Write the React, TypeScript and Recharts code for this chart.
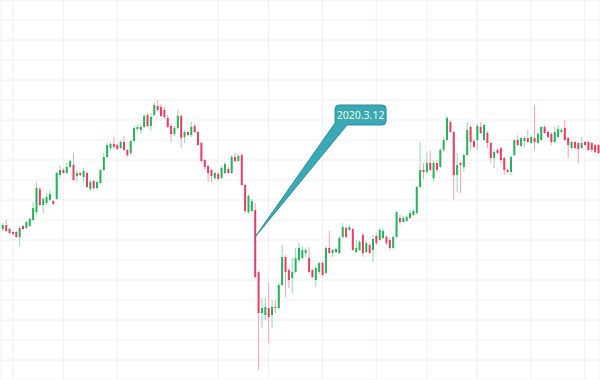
import { ComposedChart, Bar, XAxis, YAxis, CartesianGrid, ReferenceDot } from "recharts";

const open = [
  175.5, 177.5, 175.5, 174, 174, 171.5, 177, 176, 177, 180,
  184, 195.5, 187.5, 188.5, 190, 189.5, 190.5, 202.5, 205, 203.5,
  206.5, 207.5, 202, 203.5, 201.5, 203.5, 195.5, 199.5, 196, 198.5,
  205, 211.5, 216, 218, 217.5, 216, 219, 215, 213.5, 219.5,
  225.5, 225, 226.5, 232.5, 227, 232.5, 237, 236.5, 235, 231,
  227, 223, 226, 232, 221.5, 224, 222.5, 227, 224, 218.5,
  210, 207, 205, 201, 203, 201, 203.5, 205.5, 203.5, 211.5,
  209.5, 212.5, 197.5, 184, 184.5, 185, 154, 133.5, 132.5, 136,
  132.5, 136.5, 136, 147.5, 161.5, 155, 151, 154, 160, 161,
  163.5, 161, 155, 150, 154, 158.5, 153.5, 166, 163.5, 164,
  163.5, 171.5, 176, 175, 175.5, 164, 165, 172.5, 164, 167.5,
  165, 172, 170, 171, 171.5, 170, 166, 171.5, 181, 179,
  179.5, 181, 182.5, 183.5, 196.5, 205, 204, 208.5, 201, 208.5,
  206.5, 215, 220, 229, 224, 202.5, 208.5, 206.5, 212.5, 226.5,
  219.5, 220, 226.5, 220, 223.5, 218.5, 211, 215, 216, 211,
  205, 204, 212.5, 220, 217, 219.5, 221, 218.5, 221, 218.5,
  220, 226.5, 224, 223, 219, 221.5, 224, 226, 221, 216,
  219, 218.5, 216, 219, 219, 218.5, 217.5, 217.5,
];

const high = [
  178.5, 180, 176, 174.5, 174.5, 177, 177.5, 179.5, 181, 189,
  199, 196.5, 191.5, 193.5, 195, 190, 204, 207.5, 206, 208.5,
  210, 213.5, 205, 204, 206, 204, 200, 200, 199.5, 205.5,
  213.5, 218.5, 219, 221.5, 218, 220, 222, 215.5, 220, 227,
  227.5, 227.5, 233, 233.5, 233.5, 238.5, 240, 238, 236.5, 232.5,
  228, 227, 235, 233, 225, 224.5, 229, 228, 224.5, 219,
  210.5, 207.5, 205.5, 204.5, 204, 207, 209, 206.5, 212.5, 213.5,
  213, 213.5, 198, 193, 190.5, 188.5, 154.5, 141, 141, 148.5,
  140, 140, 148.5, 167.5, 162.5, 156, 161, 166, 168.5, 167,
  166, 166.5, 155.5, 157, 159, 159.5, 167, 174.5, 165.5, 166,
  172, 178.5, 177, 177.5, 176, 170, 170, 173.5, 169.5, 168.5,
  172.5, 173.5, 176, 175.5, 172.5, 171, 172.5, 184.5, 182.5, 182,
  182.5, 185, 185.5, 197, 219, 208.5, 213.5, 214.5, 210, 210,
  216, 221.5, 232, 230, 224.5, 213.5, 209, 213, 229, 227.5,
  220.5, 228, 229, 228, 224.5, 219, 215, 216, 216.5, 211.5,
  205.5, 212, 220.5, 222.5, 221.5, 222, 225, 222.5, 237.5, 224,
  227, 227.5, 225, 224, 226.5, 227.5, 226, 230, 221.5, 219.5,
  219.5, 219, 221.5, 219.5, 219.5, 219, 218, 218,
];

const low = [
  174.5, 174, 173, 172.5, 171, 167, 175, 175.5, 176.5, 179.5,
  183, 187, 183.5, 187.5, 189.5, 187.5, 190, 201, 203, 203,
  206, 199.5, 199, 202, 199, 196, 194.5, 195, 195, 198,
  204.5, 211, 215, 215.5, 215, 215.5, 214.5, 211.5, 212.5, 219,
  224.5, 223, 226, 226.5, 224.5, 232, 234, 231.5, 230.5, 226,
  219, 222, 225.5, 216, 218.5, 222, 221.5, 223.5, 217, 209,
  205, 199, 199, 200, 199.5, 200.5, 203, 203, 203, 209,
  209, 197, 183, 183, 184, 151, 105, 126, 130, 118.5,
  126, 133.5, 135.5, 147, 141.5, 146, 143.5, 153.5, 159, 160.5,
  161.5, 153.5, 151, 146.5, 153, 152, 153, 163, 161.5, 163.5,
  163, 171, 171, 174.5, 164.5, 163.5, 164.5, 161.5, 163.5, 163,
  159, 167.5, 169.5, 170.5, 167.5, 165, 165.5, 171, 177.5, 178.5,
  179, 180.5, 182, 183, 196, 200.5, 203, 204.5, 199, 204,
  206, 214, 219.5, 223.5, 190, 194, 193.5, 204, 212, 215,
  216, 215, 223, 219.5, 216, 208.5, 206, 213, 208.5, 202.5,
  203.5, 202.5, 212, 217, 216.5, 216.5, 218.5, 218, 215, 218,
  219.5, 223, 221, 217.5, 218.5, 221, 223.5, 219.5, 211, 215.5,
  215.5, 208.5, 215.5, 217, 214.5, 214, 213.5, 213,
];

const close = [
  177.5, 174.5, 173.5, 173, 171.5, 176, 175.5, 179, 180.5, 186,
  196, 187.5, 190.5, 191.5, 193, 188, 203.5, 205, 203.5, 206.5,
  209.5, 200, 203.5, 202.5, 204.5, 196.5, 199, 196, 199, 205,
  211.5, 217.5, 218, 216.5, 215.5, 219, 215, 212.5, 219.5, 226,
  226.5, 226.5, 232, 227, 231.5, 237.5, 235, 232, 231.5, 226.5,
  223, 226, 232, 221, 224, 222.5, 226.5, 224, 217.5, 209.5,
  206.5, 203.5, 202, 203.5, 200.5, 206, 208, 203.5, 211.5, 209.5,
  212, 197.5, 184.5, 192, 189.5, 151.5, 133.5, 136, 136.5, 131.5,
  136.5, 136, 147.5, 161.5, 154, 150, 154, 161, 166, 165,
  165, 154, 151.5, 156, 158.5, 152.5, 166, 163.5, 165, 165.5,
  171, 176.5, 171.5, 176.5, 165, 166, 169, 163.5, 168.5, 163.5,
  170.5, 168.5, 175, 174.5, 168.5, 166, 171.5, 184, 179, 181,
  181.5, 183.5, 184.5, 196.5, 205, 204, 208.5, 205, 208.5, 205,
  215, 220, 231, 224, 202.5, 207.5, 207.5, 212.5, 225, 219,
  216.5, 227, 223.5, 227.5, 218.5, 211, 214, 213.5, 210, 205,
  204, 211.5, 220, 217.5, 221, 221, 219, 221.5, 219, 223,
  226.5, 223.5, 221.5, 219, 224, 225.5, 225, 220, 217.5, 219,
  216, 215.5, 218.5, 217.5, 215, 215, 214, 213.5,
];

// trading days (weekends skipped), one per candle
const dates: string[] = [];
{
  const d = new Date(Date.UTC(2019, 10, 28));
  while (dates.length < open.length) {
    const wd = d.getUTCDay();
    if (wd !== 0 && wd !== 6) {
      dates.push(`${d.getUTCFullYear()}.${d.getUTCMonth() + 1}.${d.getUTCDate()}`);
    }
    d.setUTCDate(d.getUTCDate() + 1);
  }
}

const gridTickIndex = [3, 18, 34, 64, 79, 95, 111, 126, 141, 157, 173];
const priceTicks = [
  100, 110, 120, 130, 140, 150, 160, 170, 180, 190,
  200, 210, 220, 230, 240, 250, 260, 270, 280, 290,
];

const calloutDate = "2020.3.12";
const calloutPrice = 171.5;

const UP = "#24b25b";
const UP_WICK = "#93d9ad";
const DOWN = "#ea3d62";
const DOWN_WICK = "#f4a2b5";

const data = dates.map((date, i) => ({
  date,
  open: open[i],
  high: high[i],
  low: low[i],
  close: close[i],
  range: [low[i], high[i]],
}));

function Candle(props: any) {
  const { x, y, width, height, payload } = props;
  const top = Math.min(y, y + height);
  const h = Math.abs(height);
  const { open: o, close: c, high: hi, low: lo } = payload;
  const yOf = (v: number) => top + ((hi - v) / (hi - lo)) * h;
  const up = c >= o;
  const cx = x + width / 2;
  const bodyTop = yOf(Math.max(o, c));
  const bodyH = Math.max(1, yOf(Math.min(o, c)) - bodyTop);
  return (
    <g>
      <rect x={cx - 0.5} y={top} width={1} height={h} fill={up ? UP_WICK : DOWN_WICK} />
      <rect x={cx - 1} y={bodyTop} width={2} height={bodyH} fill={up ? UP : DOWN} />
    </g>
  );
}

function Callout(props: any) {
  const { cx, cy } = props;
  // box up and to the right of the point, pointer from its bottom-left
  const L = cx + 80;
  const T = cy - 132;
  const R = L + 51;
  const B = T + 20;
  const r = 4;
  const d = [
    `M ${L + r} ${T}`,
    `H ${R - r}`,
    `Q ${R} ${T} ${R} ${T + r}`,
    `V ${B - r}`,
    `Q ${R} ${B} ${R - r} ${B}`,
    `H ${L + 12}`,
    `L ${cx} ${cy}`,
    `L ${L} ${B - 2}`,
    `V ${T + r}`,
    `Q ${L} ${T} ${L + r} ${T}`,
    "Z",
  ].join(" ");
  return (
    <g>
      <path d={d} fill="#3aa9b5" stroke="#23909c" strokeWidth={1} strokeLinejoin="round" />
      <text
        x={(L + R) / 2}
        y={(T + B) / 2 + 4}
        textAnchor="middle"
        fontSize={10.5}
        fontFamily="Noto Sans, sans-serif"
        fill="#f1f9e4"
      >
        {calloutDate}
      </text>
    </g>
  );
}

export default function App() {
  return (
    <div style={{ width: 600, height: 380 }}>
      <style>{"body{margin:0}"}</style>
      <ComposedChart width={600} height={380} data={data} margin={{ top: 0, right: 0, bottom: 0, left: 1 }}>
        <CartesianGrid stroke="#f0f0f0" />
        <XAxis dataKey="date" hide ticks={gridTickIndex.map((i) => dates[i])} interval={0} />
        <YAxis hide domain={[100, 290]} ticks={priceTicks} interval={0} />
        <Bar dataKey="range" shape={<Candle />} isAnimationActive={false} />
        <ReferenceDot x={calloutDate} y={calloutPrice} shape={<Callout />} />
      </ComposedChart>
    </div>
  );
}
